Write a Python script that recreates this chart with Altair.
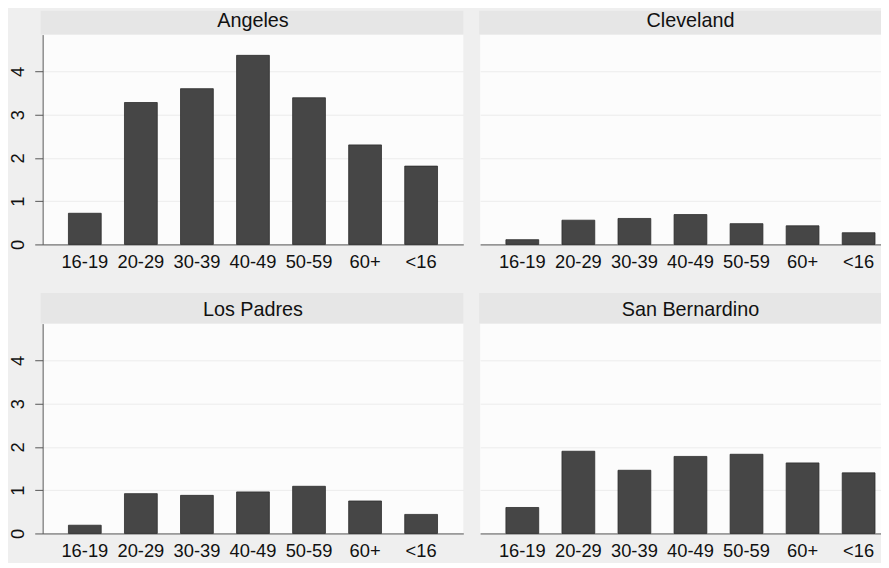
import altair as alt
import pandas as pd

# ---- data ----
categories = ["16-19", "20-29", "30-39", "40-49", "50-59", "60+", "<16"]
panels = ["Angeles", "Cleveland", "Los Padres", "San Bernardino"]
angeles = [0.72, 3.28, 3.60, 4.37, 3.39, 2.30, 1.81]
cleveland = [0.11, 0.56, 0.60, 0.69, 0.48, 0.43, 0.27]
los_padres = [0.19, 0.92, 0.88, 0.96, 1.09, 0.75, 0.44]
san_bernardino = [0.60, 1.90, 1.46, 1.78, 1.83, 1.63, 1.40]
series = [angeles, cleveland, los_padres, san_bernardino]
y_ticks = [0, 1, 2, 3, 4]

# ---- layout / style ----
FONT = "Liberation Sans"
LEFT_W = 425
RIGHT_W = 405
H = 212
YMAX = 4.85
PI = 0.415
PO = 0.46
N = len(categories)
step = LEFT_W / (N - PI + 2 * PO)
po_right = (RIGHT_W / step - (N - PI)) / 2
align_right = PO / (2 * po_right)

BAR = "#464646"
TEXT = "#111111"
AXIS = "#555555"
GRID = "#ececec"
HEADER = "#e6e6e6"


def panel(idx):
    name = panels[idx]
    col = idx % 2
    row = idx // 2
    width = LEFT_W if col == 0 else RIGHT_W
    df = pd.DataFrame({"age": categories, "value": series[idx]})

    if col == 0:
        xscale = alt.Scale(domain=categories, paddingInner=PI, paddingOuter=PO)
        yaxis = alt.Axis(values=y_ticks, title=None, labelAngle=270,
                         labelAlign="center", labelBaseline="bottom",
                         labelPadding=7, tickSize=8, tickColor=AXIS,
                         domainColor=AXIS, gridColor=GRID, labelFontSize=18.5,
                         labelColor=TEXT, labelFont=FONT, minExtent=34,
                         maxExtent=34)
    else:
        xscale = alt.Scale(domain=categories, paddingInner=PI,
                           paddingOuter=po_right, align=align_right)
        yaxis = alt.Axis(values=y_ticks, title=None, labels=False, ticks=False,
                         domain=False, grid=True, gridColor=GRID,
                         minExtent=0, maxExtent=0)

    ext = 40 if row == 0 else 24
    xaxis = alt.Axis(title=None, labelAngle=0, ticks=False, tickSize=0,
                     labelPadding=8, domainColor=AXIS, labelFontSize=18.5,
                     labelFont=FONT, labelColor=TEXT, grid=False,
                     minExtent=ext, maxExtent=ext)

    bars = alt.Chart(df).mark_bar(color=BAR, stroke="#2c2c2c", strokeWidth=0.8).encode(
        x=alt.X("age:N", sort=categories, scale=xscale, axis=xaxis),
        y=alt.Y("value:Q", scale=alt.Scale(domain=[0, YMAX], nice=False, zero=True),
                axis=yaxis),
    )

    hdr_df = pd.DataFrame({"name": [name]})
    hh = 24 if row == 0 else 31
    header = alt.Chart(hdr_df).mark_rect(color=HEADER).encode(
        x=alt.value(-2 if col == 0 else -1),
        x2=alt.value(width),
        y=alt.value(-hh),
        y2=alt.value(0),
    )
    title = alt.Chart(hdr_df).mark_text(font=FONT, fontSize=20, color=TEXT,
                                         baseline="alphabetic", align="center").encode(
        x=alt.value(LEFT_W / 2),
        y=alt.value(-8 if row == 0 else -7.5),
        text="name:N",
    )
    return alt.layer(header, title, bars).properties(width=width, height=H)


top = alt.hconcat(panel(0), panel(1), spacing=16)
bottom = alt.hconcat(panel(2), panel(3), spacing=16)
chart = alt.vconcat(top, bottom, spacing=9).properties(
    padding=0, background="#efefef"
).configure_view(fill="#fcfcfc", strokeWidth=0)

chart.save("out.html", embed_options={"renderer": "svg", "actions": False})
